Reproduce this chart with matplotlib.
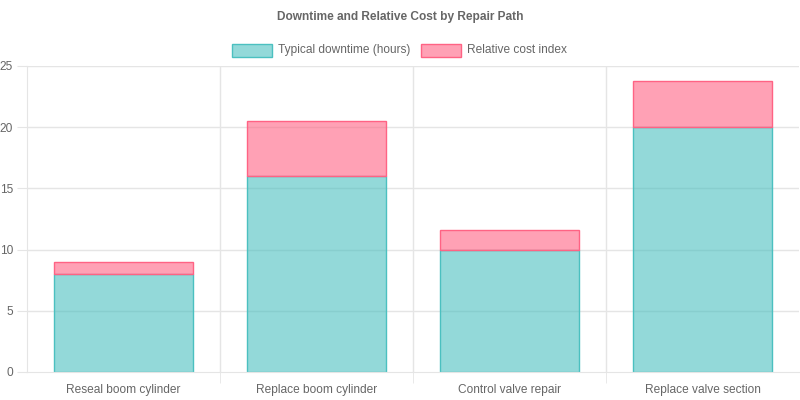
import matplotlib
matplotlib.use("Agg")
import matplotlib.pyplot as plt
from matplotlib.patches import Rectangle

#data
categories = ["Reseal boom cylinder", "Replace boom cylinder", "Control valve repair", "Replace valve section"]
downtime = [8, 16, 10, 20]
cost_index = [1, 4.5, 1.6, 3.8]
series_names = ["Typical downtime (hours)", "Relative cost index"]
yticks = [0, 5, 10, 15, 20, 25]

teal_fill = (75/255, 192/255, 192/255, 0.6)
teal_edge = (75/255, 192/255, 192/255, 1.0)
pink_fill = (255/255, 99/255, 132/255, 0.6)
pink_edge = (255/255, 99/255, 132/255, 1.0)
txt = "#666666"
grid = "#e5e5e5"
fs = 8.6

plt.rcParams['font.family'] = ['Liberation Sans', 'DejaVu Sans']

fig = plt.figure(figsize=(8, 4), dpi=100)
ax = fig.add_axes([27/800, 28/400, 772/800, 306/400])

x = list(range(len(categories)))
ax.bar(x, downtime, width=0.72, color=teal_fill, edgecolor=teal_edge, linewidth=1)
ax.bar(x, cost_index, width=0.72, bottom=downtime, color=pink_fill, edgecolor=pink_edge, linewidth=1)

ax.set_xlim(-0.5, len(categories) - 0.5)
ax.set_ylim(0, 25)
ax.set_yticks(yticks)
ax.set_xticks(x)
ax.set_xticklabels(categories)
ax.set_xticks([i + 0.5 for i in x[:-1]], minor=True)

ax.grid(False)
for v in yticks[1:]:
    ax.axhline(v, color=grid, lw=1, zorder=0)
for i in x[:-1]:
    ax.axvline(i + 0.5, color=grid, lw=1, zorder=0)
ax.set_axisbelow(True)

for s in ["top", "right"]:
    ax.spines[s].set_visible(False)
ax.spines["left"].set_color(grid)
ax.spines["bottom"].set_color(grid)
ax.tick_params(axis="y", colors=grid, labelcolor=txt, labelsize=fs, length=7, pad=3)
ax.tick_params(axis="x", which="major", length=0, labelcolor=txt, labelsize=fs, pad=9)
ax.tick_params(axis="x", which="minor", length=8, color=grid)

fig.text(0.5, 1 - 17/400, "Downtime and Relative Cost by Repair Path", ha="center", va="center",
         fontsize=fs, fontweight="bold", color=txt)

# legend
leg_y = 1 - 50/400
fig.patches.append(Rectangle((232/800, leg_y - 6.5/400), 40/800, 13/400, transform=fig.transFigure,
                             facecolor=teal_fill, edgecolor=teal_edge, lw=1))
fig.text(278/800, leg_y, series_names[0], ha="left", va="center", fontsize=fs, color=txt)
fig.patches.append(Rectangle((421/800, leg_y - 6.5/400), 40/800, 13/400, transform=fig.transFigure,
                             facecolor=pink_fill, edgecolor=pink_edge, lw=1))
fig.text(467/800, leg_y, series_names[1], ha="left", va="center", fontsize=fs, color=txt)

plt.savefig("out.png", dpi=100)
